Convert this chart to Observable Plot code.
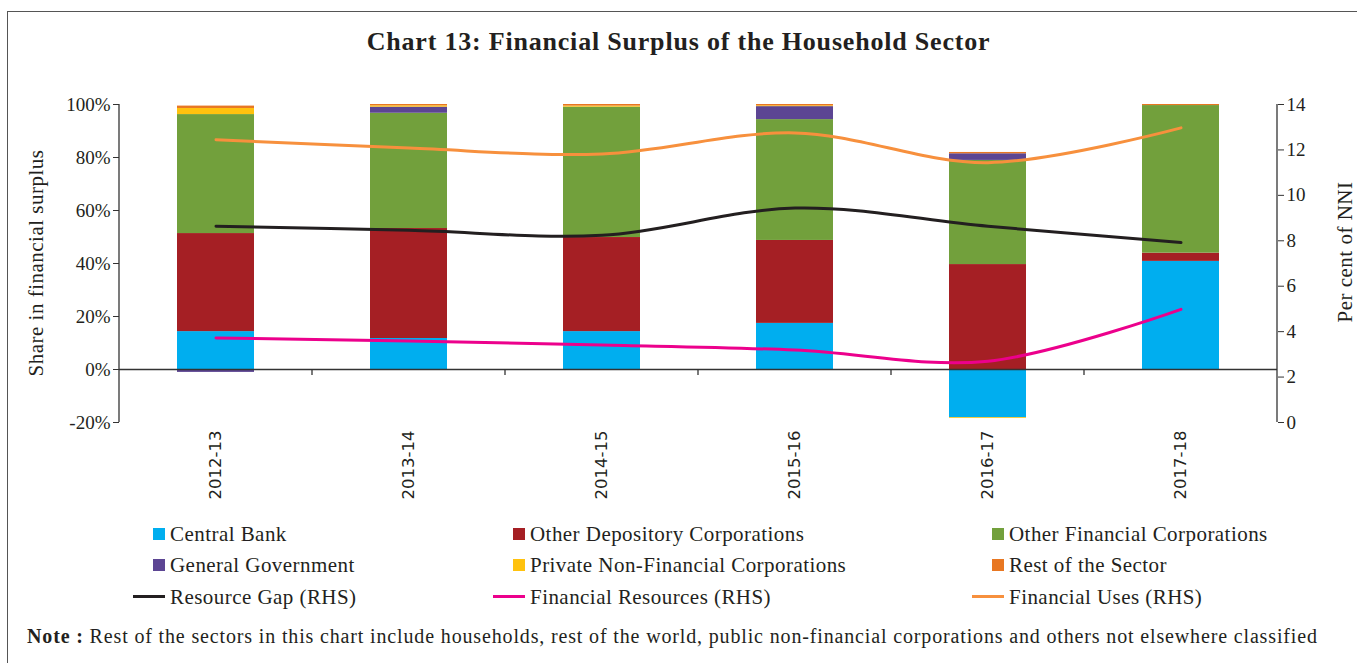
<!DOCTYPE html>
<html><head><meta charset="utf-8">
<script src="https://cdn.jsdelivr.net/npm/d3@7"></script>
<script src="https://cdn.jsdelivr.net/npm/@observablehq/plot@0.6"></script>
<style>
body{margin:0;background:#fff;}
#wrap{position:relative;width:1357px;height:663px;overflow:hidden;font-family:"Liberation Serif",serif;color:#231f20;background:#fff;}
#frame{position:absolute;left:7px;top:11px;width:1400px;height:700px;border-left:1.5px solid #555;border-top:1.5px solid #555;}
#title{position:absolute;top:27px;left:0;width:1357px;text-align:center;font-weight:bold;font-size:26px;letter-spacing:0.8px;}
#chart{position:absolute;left:0;top:70px;}
.ytitle{position:absolute;font-size:21px;letter-spacing:0.5px;white-space:nowrap;transform:translate(-50%,-50%) rotate(-90deg);}
.item{position:absolute;height:24px;display:flex;align-items:center;font-size:21px;letter-spacing:0.45px;white-space:nowrap;}
.sw{width:32px;height:24px;position:relative;margin-right:5px;}
.sq{position:absolute;right:0;top:6px;width:12px;height:12px;}
.ln{position:absolute;left:0;right:0;top:10px;height:3px;}
#note{position:absolute;left:27px;top:625px;font-size:20px;letter-spacing:0.85px;white-space:nowrap;}
</style></head>
<body><div id="wrap">
<div id="frame"></div>
<div id="title">Chart 13: Financial Surplus of the Household Sector</div>
<div id="chart"></div>
<div class="ytitle" style="left:36px;top:263px;">Share in financial surplus</div>
<div class="ytitle" style="left:1345px;top:252px;">Per cent of NNI</div>
<div id="legend"></div>
<div id="note"><b>Note :</b> Rest of the sectors in this chart include households, rest of the world, public non-financial corporations and others not elsewhere classified</div>
</div>
<script>
const years = ["2012-13","2013-14","2014-15","2015-16","2016-17","2017-18"];
const barSeries = ["Central Bank","Other Depository Corporations","Other Financial Corporations","General Government","Private Non-Financial Corporations","Rest of the Sector"];
const barColors = ["#00AEEF","#A51F24","#72A03C","#5C4593","#FFC20E","#E87722"];
const centralBank = [14.3, 11.7, 14.3, 17.4, -18.2, 40.8];
const otherDepository = [37.0, 41.5, 35.5, 31.3, 39.6, 3.1];
const otherFinancial = [44.9, 43.5, 49.2, 45.6, 39.3, 55.7];
const generalGovt = [-1.1, 2.3, 0, 4.9, 2.5, 0];
const privateNFC = [2.3, 0.5, 0.4, 0.3, -0.3, 0];
const restSector = [0.9, 0.5, 0.6, 0.5, 0.5, 0.4];
const lineSeries = ["Resource Gap (RHS)","Financial Resources (RHS)","Financial Uses (RHS)"];
const lineColors = ["#231F20","#EC008C","#F7903D"];
const resourceGap = [8.64, 8.46, 8.24, 9.44, 8.64, 7.92];
const financialResources = [3.72, 3.59, 3.41, 3.19, 2.70, 4.98];
const financialUses = [12.45, 12.08, 11.82, 12.75, 11.44, 12.97];
const leftTicks = [-20, 0, 20, 40, 60, 80, 100];
const rightTicks = [0, 2, 4, 6, 8, 10, 12, 14];

const barValues = [centralBank, otherDepository, otherFinancial, generalGovt, privateNFC, restSector];
const lineValues = [resourceGap, financialResources, financialUses];
const L0 = -20, L1 = 100, R0 = 0, R1 = 14;
const toLeft = v => L0 + (v - R0) * (L1 - L0) / (R1 - R0);
const fromLeft = v => R0 + (v - L0) * (R1 - R0) / (L1 - L0);

const barRows = [];
barSeries.forEach((s, i) => years.forEach((y, j) => barRows.push({year: y, series: s, value: barValues[i][j]})));

const lineMarks = lineSeries.map((s, i) =>
  Plot.line(years.map((y, j) => ({year: y, v: lineValues[i][j]})),
    {x: "year", y: d => toLeft(d.v), stroke: lineColors[i], strokeWidth: 3, curve: "catmull-rom"}));

const plot = Plot.plot({
  width: 1357, height: 440,
  marginTop: 34, marginBottom: 88, marginLeft: 119, marginRight: 80,
  style: {fontFamily: "Liberation Serif", fontSize: "19px", color: "#231f20", background: "transparent"},
  x: {domain: years, paddingInner: 0.6, paddingOuter: 0.3, label: null},
  y: {domain: [L0, L1], label: null},
  color: {domain: barSeries, range: barColors},
  marks: [
    Plot.barY(barRows, {x: "year", y: "value", fill: "series", order: barSeries}),
    Plot.ruleY([0], {stroke: "#333", strokeWidth: 1.3}),
    ...lineMarks,
    Plot.axisY(leftTicks, {anchor: "left", tickSize: 6, tickPadding: 3, tickFormat: d => d + "%", label: null, stroke: "#333"}),
    Plot.axisY(rightTicks.map(toLeft), {anchor: "right", tickSize: 6, tickPadding: 3, tickFormat: d => String(Math.round(fromLeft(d))), label: null, stroke: "#333"}),
    Plot.axisX({tickRotate: -90, tickSize: 0, tickPadding: 8, fontFamily: "DejaVu Sans", fontSize: 16.5, label: null})
  ]
});
document.getElementById("chart").appendChild(plot);

// axis lines and category separators from the plot's own scales
const xs = plot.scale("x"), ys = plot.scale("y");
const svg = d3.select(plot);
const g = svg.append("g").attr("stroke", "#333").attr("stroke-width", 1.3);
const [xL, xR] = xs.range;
[xL, xR].forEach(x => g.append("line").attr("x1", x).attr("x2", x).attr("y1", ys.apply(L0)).attr("y2", ys.apply(L1)));
const gap = (xs.step - xs.bandwidth) / 2;
years.slice(1).forEach(y => {
  const x = xs.apply(y) - gap;
  g.append("line").attr("x1", x).attr("x2", x).attr("y1", ys.apply(0)).attr("y2", ys.apply(0) + 6);
});

// legend
const legendItems = [
  ...barSeries.map((s, i) => ({label: s, color: barColors[i], kind: "sq"})),
  ...lineSeries.map((s, i) => ({label: s, color: lineColors[i], kind: "ln"}))
];
const colLeft = [133, 493, 972], rowTop = [522, 553, 585];
const leg = document.getElementById("legend");
legendItems.forEach((it, k) => {
  const d = document.createElement("div");
  d.className = "item";
  d.style.left = colLeft[k % 3] + "px";
  d.style.top = rowTop[Math.floor(k / 3)] + "px";
  d.innerHTML = `<div class="sw"><div class="${it.kind}" style="background:${it.color}"></div></div><span>${it.label}</span>`;
  leg.appendChild(d);
});
</script>
</body></html>
